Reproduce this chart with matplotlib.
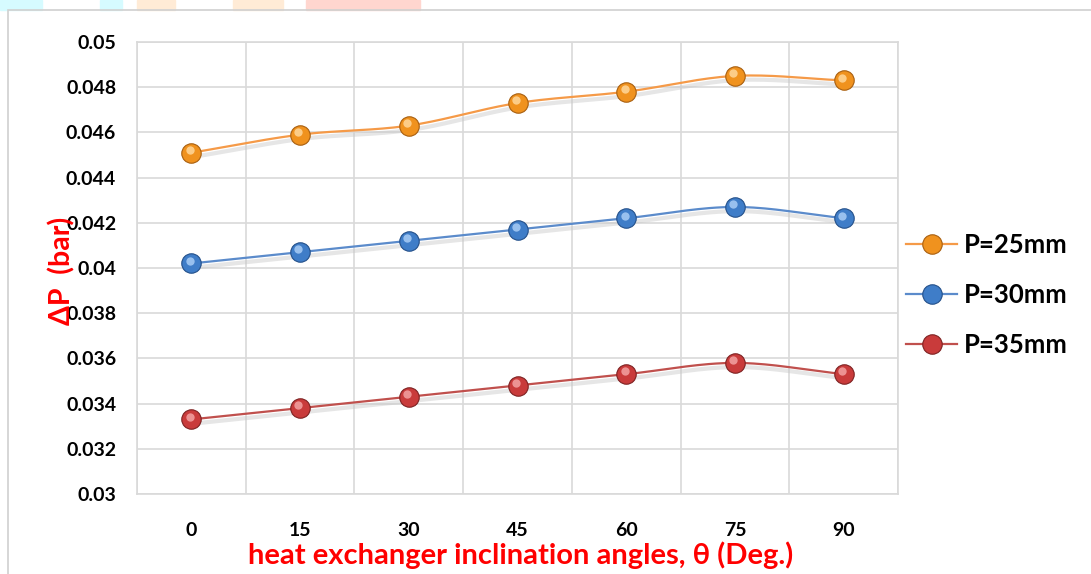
import numpy as np
import matplotlib
matplotlib.use("Agg")
import matplotlib.pyplot as plt
from matplotlib.lines import Line2D
from matplotlib.patches import Rectangle
import matplotlib.transforms as mtransforms

# pressure drop vs. inclination angle, three tube pitches
angles = [0, 15, 30, 45, 60, 75, 90]
dp_25 = [0.0451, 0.0459, 0.0463, 0.0473, 0.0478, 0.0485, 0.0483]
dp_30 = [0.0402, 0.0407, 0.0412, 0.0417, 0.0422, 0.0427, 0.0422]
dp_35 = [0.0333, 0.0338, 0.0343, 0.0348, 0.0353, 0.0358, 0.0353]
labels = ["P=25mm", "P=30mm", "P=35mm"]

line_cols = ["#F59A48", "#5B8BCB", "#C0504D"]
face_cols = ["#F0921E", "#3F7DC8", "#C93B3B"]
edge_cols = ["#A85F10", "#24508A", "#7E2222"]
hi_cols = ["#FFD79A", "#A9CCF5", "#F3A2A2"]

FONT = ["Lato", "DejaVu Sans"]
plt.rcParams["font.family"] = FONT


def smooth(xs, ys, n=30):
    # Catmull-Rom curve through the points (like a smoothed line in a spreadsheet)
    xs = np.asarray(xs, float)
    ys = np.asarray(ys, float)
    px = np.concatenate([[2 * xs[0] - xs[1]], xs, [2 * xs[-1] - xs[-2]]])
    py = np.concatenate([[2 * ys[0] - ys[1]], ys, [2 * ys[-1] - ys[-2]]])
    outx, outy = [], []
    t = np.linspace(0, 1, n)
    for i in range(1, len(px) - 2):
        for arr, out in ((px, outx), (py, outy)):
            p0, p1, p2, p3 = arr[i - 1], arr[i], arr[i + 1], arr[i + 2]
            out.extend(0.5 * ((2 * p1) + (-p0 + p2) * t
                              + (2 * p0 - 5 * p1 + 4 * p2 - p3) * t ** 2
                              + (-p0 + 3 * p1 - 3 * p2 + p3) * t ** 3))
    return np.array(outx), np.array(outy)


W, H = 1091, 574
fig = plt.figure(figsize=(W / 100, H / 100), dpi=100)

# faint coloured strips along the very top edge
for x0, x1, c in [(0, 42, "#D6FBFF"), (100, 122, "#D6FBFF"), (137, 175, "#FFEBD6"),
                  (233, 283, "#FFEBD6"), (306, 420, "#FFD6CF")]:
    fig.patches.append(Rectangle((x0 / W, 1 - 10 / H), (x1 - x0) / W, 10 / H,
                                 transform=fig.transFigure, color=c, zorder=0))
# chart frame
fig.patches.append(Rectangle((8 / W, -0.05), 1.1, 1 - 10 / H + 0.05, transform=fig.transFigure,
                             fill=False, edgecolor="#D0D0D0", lw=1.2, zorder=1))

ax = fig.add_axes([137 / W, 1 - 494 / H, (898 - 137) / W, (494 - 42) / H])
xpos = np.arange(len(angles))

for ys, lc, fc, ec, hc, lab in zip([dp_25, dp_30, dp_35], line_cols, face_cols,
                                    edge_cols, hi_cols, labels):
    sx, sy = smooth(xpos, ys)
    shadow = mtransforms.offset_copy(ax.transData, fig=fig, x=1.5, y=-3, units="points")
    ax.plot(sx, sy, color="#C8C8C8", lw=3, alpha=0.45, transform=shadow, zorder=2)
    ax.plot(sx, sy, color=lc, lw=1.6, zorder=3)
    ax.plot(xpos, ys, "o", ms=14, mfc=fc, mec=ec, mew=0.8, zorder=4)
    hi = mtransforms.offset_copy(ax.transData, fig=fig, x=-1.2, y=2.0, units="points")
    ax.plot(xpos, ys, "o", ms=6, mfc=hc, mec="none", alpha=0.85, transform=hi, zorder=5)

ax.set_xlim(-0.5, len(angles) - 0.5)
ax.set_ylim(0.03, 0.05)
ax.set_yticks(np.arange(0.03, 0.0501, 0.002))
ax.set_yticklabels(["0.03", "0.032", "0.034", "0.036", "0.038", "0.04",
                    "0.042", "0.044", "0.046", "0.048", "0.05"])
ax.set_xticks(xpos)
ax.set_xticklabels([str(a) for a in angles])
ax.set_xticks(np.arange(-0.5, len(angles)), minor=True)
ax.grid(True, which="minor", axis="x", color="#D9D9D9", lw=1.2)
ax.grid(True, which="major", axis="y", color="#D9D9D9", lw=1.2)
ax.set_axisbelow(True)
ax.tick_params(which="both", length=0)
ax.tick_params(axis="y", pad=15)
ax.tick_params(axis="x", pad=20)
for lbl in ax.get_xticklabels() + ax.get_yticklabels():
    lbl.set_fontsize(14)
    lbl.set_fontweight("bold")
for sp in ax.spines.values():
    sp.set_color("#D9D9D9")
    sp.set_linewidth(1.2)

fig.text(521 / W, 1 - 555 / H, "heat exchanger inclination angles, \u03b8 (Deg.)",
         color="#FF0000", fontsize=21, fontweight="bold", ha="center", va="center")
fig.text(62 / W, 1 - 271 / H, "\u0394P  (bar)", color="#FF0000", fontsize=20.5,
         fontweight="bold", rotation=90, ha="center", va="center")

handles = [Line2D([], [], color=lc, lw=1.6, marker="o", ms=14, mfc=fc, mec=ec, mew=0.8)
           for lc, fc, ec in zip(line_cols, face_cols, edge_cols)]
leg = fig.legend(handles, labels, loc="center left", bbox_to_anchor=(906 / W, 1 - 295 / H),
                 frameon=False, handlelength=2.0, handletextpad=0.25, labelspacing=1.0,
                 borderpad=0, borderaxespad=0,
                 prop={"family": FONT, "size": 18.5, "weight": "bold"})

fig.savefig("out.png", dpi=100)
